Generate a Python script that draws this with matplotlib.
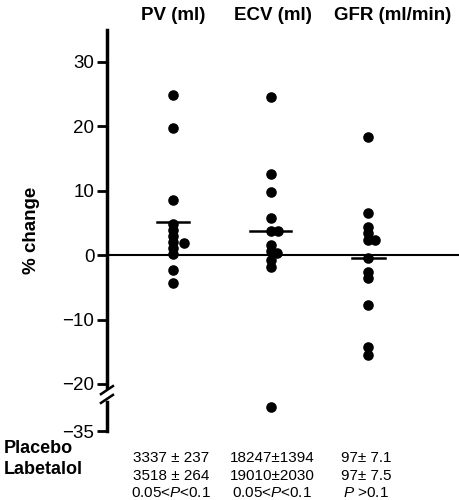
import numpy as np
import matplotlib
matplotlib.use("Agg")
import matplotlib.pyplot as plt

plt.rcParams['font.family'] = ['Liberation Sans', 'DejaVu Sans']
plt.rcParams['mathtext.fontset'] = 'custom'
plt.rcParams['mathtext.rm'] = 'Liberation Sans'
plt.rcParams['mathtext.it'] = 'Liberation Sans:italic'

# % change per subject
categories = ['PV (ml)', 'ECV (ml)', 'GFR (ml/min)']
pv = [24.8, 19.7, 8.5, 4.8, 3.9, 2.9, 2.0, 1.1, 0.2, 1.8, -2.3, -4.3]
ecv = [24.5, 12.6, 9.8, 5.8, 3.8, 3.8, 1.6, 0.6, 0.3, -0.8, -1.8, -27.3]
gfr = [18.3, 6.5, 4.3, 3.4, 2.4, 2.3, -0.4, -2.6, -3.6, -7.8, -14.3, -15.5]
means = [5.1, 3.7, -0.4]
# little sideways shifts of overlapping dots
pv_dx = [0, 0, 0, 0, 0, 0, 0, 0, 0, 0.11, 0, 0]
ecv_dx = [0, 0, 0, 0, 0, 0.08, 0, 0, 0.07, 0, 0, 0]
gfr_dx = [0, 0, 0, 0, 0, 0.07, 0, 0, 0, 0, 0, 0]

placebo = ['3337 ± 237', '18247±1394', '97± 7.1']
labetalol = ['3518 ± 264', '19010±2030', '97± 7.5']
pvals = ['0.05<$\\it{P}$<0.1', '0.05<$\\it{P}$<0.1', '$\\it{P}$ >0.1']

yticks = [30, 20, 10, 0, -10, -20, -35]

# broken axis below -20
k = 0.486
def fwd(v):
    v = np.asarray(v, dtype=float)
    return np.where(v < -20, -20 + (v + 20) * k, v)
def inv(v):
    v = np.asarray(v, dtype=float)
    return np.where(v < -20, -20 + (v + 20) / k, v)

fig = plt.figure(figsize=(4.59, 5.0), dpi=100)
ax = fig.add_axes([0.233, 0.138, 0.767, 0.802])
ax.set_yscale('function', functions=(fwd, inv))
ax.set_ylim(-35, 34.9)
ax.set_xlim(0.323, 3.93)

for i, (vals, dx) in enumerate([(pv, pv_dx), (ecv, ecv_dx), (gfr, gfr_dx)]):
    x = i + 1 + np.array(dx)
    ax.scatter(x, vals, s=58, color='black', zorder=3, linewidths=0)

mean_w = [0.16, 0.21, 0.17]
for i, m in enumerate(means):
    ax.plot([i + 1 - mean_w[i], i + 1 + mean_w[i]], [m, m], color='black', lw=1.8)

ax.axhline(0, color='black', lw=1.5, zorder=1)

for s in ['top', 'right', 'bottom', 'left']:
    ax.spines[s].set_visible(False)
# left axis with break
t = ax.transAxes
ax.plot([0, 0], [1, 0.11], color='black', lw=2.5, transform=t, clip_on=False)
ax.plot([0, 0], [0.072, 0], color='black', lw=2.5, transform=t, clip_on=False)
for yb in [0.102, 0.08]:
    ax.plot([-0.017, 0.017], [yb - 0.01, yb + 0.01], color='black', lw=1.8,
            transform=t, clip_on=False)

ax.set_xticks([])
ax.set_yticks(yticks)
ax.set_yticklabels(['30', '20', '10', '0', '\u221210', '\u221220', '\u221235'], fontsize=13.5)
ax.tick_params(axis='y', direction='out', length=7, width=2, pad=2)
ax.set_ylabel('% change', fontsize=13.5, fontweight='bold', labelpad=16)

titlex = [173, 273, 393]
for i, c in enumerate(categories):
    fig.text(titlex[i] / 459, 1 - 15 / 500, c,
             ha='center', va='center', fontsize=13.5, fontweight='bold')

fig.text(4 / 459, 1 - 453 / 500, 'Placebo', fontsize=13, fontweight='bold', va='baseline')
fig.text(4 / 459, 1 - 474 / 500, 'Labetalol', fontsize=13, fontweight='bold', va='baseline')
colx = [171, 272, 366]
for i in range(3):
    fig.text(colx[i] / 459, 1 - 458 / 500, placebo[i], ha='center', va='center', fontsize=11)
    fig.text(colx[i] / 459, 1 - 476 / 500, labetalol[i], ha='center', va='center', fontsize=11)
    fig.text(colx[i] / 459, 1 - 493 / 500, pvals[i], ha='center', va='center', fontsize=11)

fig.savefig('out.png', dpi=100)
